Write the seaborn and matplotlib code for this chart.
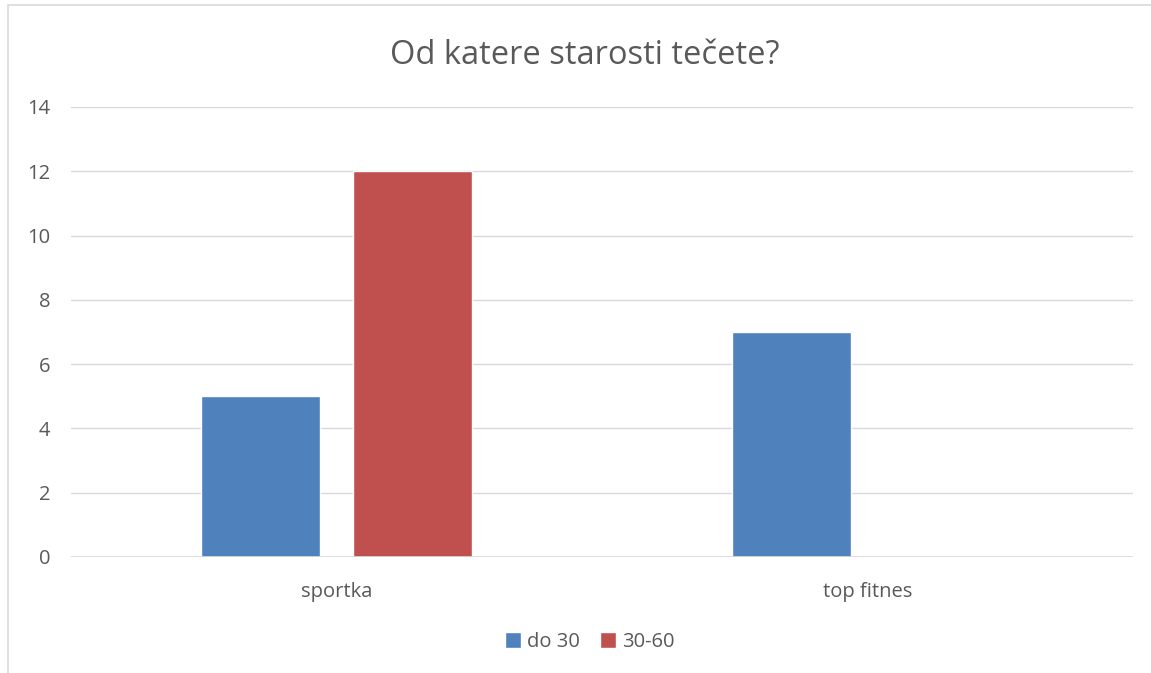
import pandas as pd
import matplotlib.pyplot as plt
import seaborn as sns
from matplotlib.patches import Rectangle

categories = ["sportka", "top fitnes"]
groups = ["do 30", "30-60"]
do_30 = [5, 7]
od_30_60 = [12, 0]

df = pd.DataFrame({
    "kategorija": categories * 2,
    "skupina": [groups[0]] * 2 + [groups[1]] * 2,
    "vrednost": do_30 + od_30_60,
})

sns.set_style("white")
plt.rcParams["font.family"] = ["Open Sans", "DejaVu Sans"]
text_col = "#595959"
grid_col = "#D9D9D9"

fig = plt.figure(figsize=(11.51, 6.73), dpi=100)
fig.patches.append(Rectangle((8 / 1151, -0.01), 1.02, 1 - 5 / 673 + 0.01,
                             transform=fig.transFigure, fill=False,
                             edgecolor=grid_col, linewidth=1.2))
ax = fig.add_axes([71 / 1151, 1 - 557 / 673, 1062 / 1151, 450 / 673])

sns.barplot(data=df, x="kategorija", y="vrednost", hue="skupina",
            palette=["#4F81BD", "#C0504D"], width=0.57, gap=0.214,
            saturation=1, ax=ax, legend=True)

ax.set_ylim(0, 14)
ax.set_yticks(range(0, 15, 2))
ax.yaxis.grid(True, color=grid_col, linewidth=1)
ax.set_axisbelow(True)
for s in ax.spines.values():
    s.set_visible(False)
ax.axhline(0, color=grid_col, linewidth=1.2)
ax.set_xlabel("")
ax.set_ylabel("")
ax.tick_params(axis="both", length=0, labelsize=14.5, colors=text_col)
ax.tick_params(axis="y", pad=15)
ax.tick_params(axis="x", pad=18)
for lbl in ax.get_xticklabels() + ax.get_yticklabels():
    lbl.set_color(text_col)

fig.text(585 / 1151, 1 - 55 / 673, "Od katere starosti tečete?", ha="center",
         va="center", fontsize=23.5, color=text_col)

handles, labels = ax.get_legend_handles_labels()
ax.legend(handles, labels, loc="center", bbox_to_anchor=(590 / 1151, 1 - 642 / 673),
          bbox_transform=fig.transFigure, ncol=2, frameon=False, fontsize=14.5,
          labelcolor=text_col, handlelength=0.8, handleheight=0.8,
          handletextpad=0.3, columnspacing=1.0)

fig.savefig("out.png", dpi=100)
